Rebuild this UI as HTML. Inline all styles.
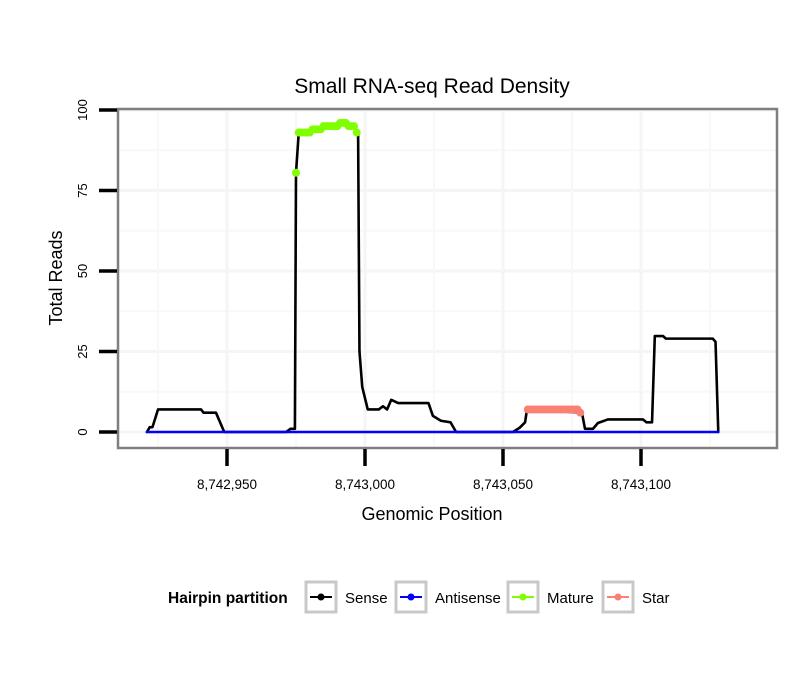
<!DOCTYPE html>
<html><head><meta charset="utf-8"><style>
body{margin:0;background:#fff}
svg{display:block;font-family:"Liberation Sans",sans-serif}
</style></head><body>
<svg id="chart" width="810" height="690">
<rect width="810" height="690" fill="#fff"/>
<text x="432" y="93" text-anchor="middle" font-size="21">Small RNA-seq Read Density</text>
<g id="grid"></g>
<g id="series"></g>
<rect x="118" y="109" width="659" height="339" fill="none" stroke="#7f7f7f" stroke-width="2.5"/>
<g id="axes"></g>
<text x="432" y="520" text-anchor="middle" font-size="18">Genomic Position</text>
<text transform="translate(62,278) rotate(-90)" text-anchor="middle" font-size="18">Total Reads</text>
<g>
<text x="168" y="603" font-size="15.5" font-weight="bold">Hairpin partition</text>
<g id="legend"></g>
</g>
</svg>
<script>
// positions are offsets from 8,742,000
const senseX=[921,922,923,925,940.6,941.5,946,949,971.4,973,974.6,975,976,979,981,983,985,990,991,993,994,996,997,997.5,998,999,1001,1005,1006.5,1008,1009.5,1012,1023,1024.6,1027.5,1031,1033,1053.6,1056,1058,1058.7,1078.6,1079.7,1082.6,1084.4,1088,1100.7,1102,1104,1105,1108,1109,1126,1127,1128];
const senseY=[0,1.5,1.5,7,7,6,6,0,0,1,1,80.5,93,93,94,94,95,95,96,96,95,95,93,93,25,14,7,7,8,7,10,9,9,5,3.5,3,0,0,1.3,3,7,6,1,1,2.8,3.9,3.9,3,3,29.8,29.8,29,29,28,0];
const matureX=[975,976,977,978,979,980,981,982,983,984,985,986,987,988,989,990,991,992,993,994,995,996,997];
const matureY=[80.5,93,93,93,93,93,94,94,94,94,95,95,95,95,95,95,96,96,96,95,95,95,93];
const starX=[1059,1060,1061,1062,1063,1064,1065,1066,1067,1068,1069,1070,1071,1072,1073,1074,1075,1076,1077,1078];
const starY=[7,7,7,7,7,7,7,7,7,7,7,7,7,7,7,7,7,7,7,6];
const antiX=[921,1128];
const antiY=[0,0];
const xTicks=[8742950,8743000,8743050,8743100];
const xTickLabels=["8,742,950","8,743,000","8,743,050","8,743,100"];
const yTicks=[0,25,50,75,100];
const BASE=8742000;
const NS="http://www.w3.org/2000/svg";
function sxa(v){return 365+(v-8743000)*2.76;}
function sx(off){return sxa(off+BASE);}
function sy(v){return 432-v*3.22;}
function mk(tag,attrs,parent){const e=document.createElementNS(NS,tag);for(const k in attrs)e.setAttribute(k,attrs[k]);parent.appendChild(e);return e;}
const grid=document.getElementById('grid'),ser=document.getElementById('series'),ax=document.getElementById('axes'),lg=document.getElementById('legend');
for(let v=-12.5;v<=112.5;v+=12.5){const y=sy(v);if(y<110||y>447)continue;
 const l=mk('line',{x1:119,x2:776,y1:y,y2:y,stroke:(v%25===0)?'#f5f5f5':'#f8f8f8','stroke-width':(v%25===0)?3:2},grid);
 
 }
for(let p=8742900;p<=8743150;p+=25){const x=sxa(p);if(x<119||x>776)continue;
 const l=mk('line',{x1:x,x2:x,y1:110,y2:447,stroke:(p%50===0)?'#f5f5f5':'#f8f8f8','stroke-width':(p%50===0)?3:2},grid);
 
 }
function line(xs,ys,color,w,name){
 const d=xs.map((x,i)=>sx(x)+','+sy(ys[i])).join(' ');
 const p=mk('polyline',{points:d,fill:'none',stroke:color,'stroke-width':w,'stroke-linejoin':'round','stroke-linecap':'round'},ser);
 
 }
function dots(xs,ys,color,name){
 xs.forEach((x,i)=>{const c=mk('circle',{cx:sx(x),cy:sy(ys[i]),r:4,fill:color},ser);
 
 });}
line(senseX,senseY,'#000',2.6,'sense-line');
line(antiX,antiY,'#0000ff',2.6,'antisense-line');
dots(matureX,matureY,'#7fff00','mature-point');
dots(starX,starY,'#fa8072','star-point');
yTicks.forEach(v=>{const y=sy(v);
 const t=mk('line',{x1:99,x2:117,y1:y,y2:y,stroke:'#000','stroke-width':3.5},ax);
 
 
 const tx=mk('text',{transform:`translate(87,${y}) rotate(-90)`,'text-anchor':'middle','font-size':13},ax);tx.textContent=v;
 
 });
xTicks.forEach((p,i)=>{const x=sxa(p);
 const t=mk('line',{x1:x,x2:x,y1:449,y2:466,stroke:'#000','stroke-width':3.5},ax);
 
 
 const tx=mk('text',{x:x,y:489,'text-anchor':'middle','font-size':13.5},ax);tx.textContent=xTickLabels[i];
 
 });
const legNames=["Sense","Antisense","Mature","Star"];
const legColors=["#000","#0000ff","#7fff00","#fa8072"];
const legX=[306,396,508,603];
legNames.forEach((n,i)=>{const x=legX[i];
 const g=mk('g',{},lg);
 
 
 mk('rect',{x:x,y:582,width:30,height:30,fill:'#fff',stroke:'#c8c8c8','stroke-width':3},g);
 mk('line',{x1:x+4,x2:x+26,y1:597,y2:597,stroke:legColors[i],'stroke-width':2},g);
 mk('circle',{cx:x+15,cy:597,r:3.5,fill:legColors[i]},g);
 const t=mk('text',{x:x+39,y:603,'font-size':15},g);t.textContent=n;});
</script>
</body></html>
